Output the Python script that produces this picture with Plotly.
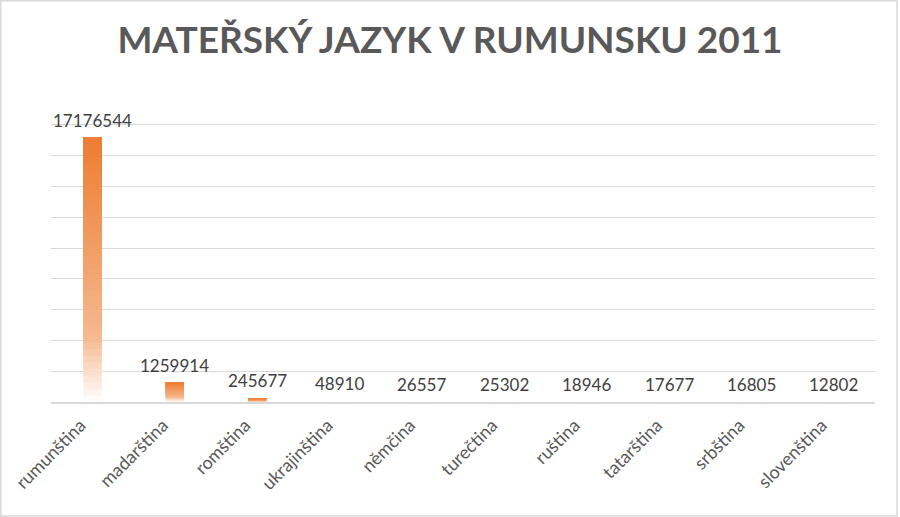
import plotly.graph_objects as go

# data
languages = ["rumunština", "madarština", "romština", "ukrajinština", "němčina",
             "turečtina", "ruština", "tatarština", "srbština", "slovenština"]
speakers = [17176544, 1259914, 245677, 48910, 26557,
            25302, 18946, 17677, 16805, 12802]

TITLE = "MATEŘSKÝ JAZYK V RUMUNSKU 2011"
ORANGE = (237, 125, 49)
N_SLICES = 40
MIN_SHADED = 100000  # thinner than a pixel -> leave it (almost) white


def shade(h):
    """orange strength for relative height h (0 = bar foot, 1 = bar top)"""
    if h > 0.25:
        t = 0.55 + 0.45 * (h - 0.25) / 0.75
    else:
        t = 0.55 * h / 0.25
    r, g, b = (round(255 + (c - 255) * t) for c in ORANGE)
    return f"rgb({r},{g},{b})"


fig = go.Figure()

# gradient bars: each layer starts higher up and runs to the bar top,
# later layers cover earlier ones so there are no seams
for k in range(N_SLICES):
    lo = k / N_SLICES
    fig.add_trace(go.Bar(
        x=languages,
        y=[v * (1 - lo) if (k == 0 or v >= MIN_SHADED) else None
           for v in speakers],
        base=[v * lo for v in speakers],
        marker=dict(color=shade(lo + 0.5 / N_SLICES), line=dict(width=0)),
        width=0.22,
        hoverinfo="skip",
        showlegend=False,
    ))

for lang, v in zip(languages, speakers):
    fig.add_annotation(x=lang, y=v, text=str(v), showarrow=False,
                       yanchor="bottom", yshift=5,
                       font=dict(size=17, color="#404040"))

fig.update_layout(
    width=900, height=517,
    barmode="overlay",
    paper_bgcolor="white", plot_bgcolor="white",
    margin=dict(l=51, r=25, t=94, b=115),
    title=dict(text=f"<b>{TITLE}</b>", x=0.5, xanchor="center",
               y=0.922, yanchor="middle",
               font=dict(family="Lato", size=37, color="#595959")),
    font=dict(family="Lato", color="#595959"),
    xaxis=dict(tickangle=-45, tickfont=dict(size=18, color="#595959"),
               showline=True, linecolor="#D9D9D9", linewidth=1.5,
               ticks="", ticklabelstandoff=4, ticklabelshift=-12,
               showgrid=False, automargin=False),
    yaxis=dict(range=[0, 20010000], dtick=2000000, showticklabels=False,
               showgrid=True, gridcolor="#D9D9D9", gridwidth=1,
               zeroline=False),
    shapes=[dict(type="rect", xref="paper", yref="paper",
                 x0=-50.2 / 824, x1=1 + 22 / 824,
                 y0=-114 / 308, y1=1 + 93.2 / 308,
                 line=dict(color="#D9D9D9", width=1.5))],
)

fig.write_html("out.html", config={"displayModeBar": False},
               post_script="document.body.style.margin='0';")
